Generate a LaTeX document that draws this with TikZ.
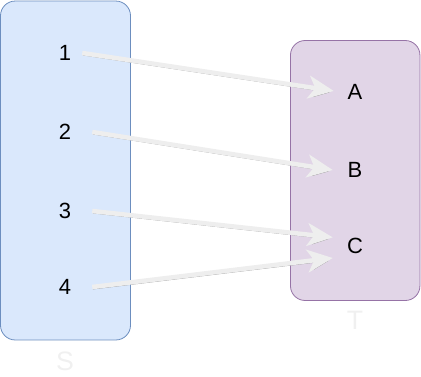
\documentclass[tikz,border=0pt]{standalone}
\usepackage{fontspec}
\setmainfont{Liberation Sans}
\usetikzlibrary{arrows.meta,positioning,calc}
\definecolor{sfill}{HTML}{DAE8FC}\definecolor{sline}{HTML}{6C8EBF}
\definecolor{tfill}{HTML}{E1D5E7}\definecolor{tline}{HTML}{9673A6}
\definecolor{faint}{HTML}{F0F0F0}\definecolor{arrowgray}{HTML}{EEEEEE}
\tikzset{
  setbox/.style={draw=#1line,fill=#1fill,rounded corners=11pt,line width=.6pt},
  elem/.style={font=\fontsize{16.5}{19}\selectfont,inner sep=0pt},
  setname/.style={font=\fontsize{20}{23}\selectfont,text=faint},
  maparrow/.style={draw=arrowgray,line width=3.4pt,
    -{Stealth[length=19pt,width=17pt,inset=5pt,fill=arrowgray]},
    preaction={draw=black!40,transform canvas={shift={(.5pt,-1.6pt)}},
      -{Stealth[length=19pt,width=17pt,inset=5pt,fill=black!40]}}}
}
\begin{document}
\begin{tikzpicture}[x=.75pt,y=-.75pt]
\useasboundingbox (0,0) rectangle (421,376);
\node[setbox=s,minimum width=97.5pt,minimum height=254.2pt] (boxS) at (65.5,170.5){};
\node[setbox=t,minimum width=97.1pt,minimum height=195pt] (boxT) at (355.2,170.5){};
\node[setname] (nameS) at (65,361){S};\node[setname] (nameT) at (355,320){T};
\node[elem,minimum width=25.5pt] (s1) at (65,53){1};
\node[elem,minimum width=40.5pt] (s2) at (65,132){2};
\node[elem,minimum width=40.5pt] (s3) at (65,211){3};
\node[elem,minimum width=40.5pt] (s4) at (65,287){4};
\node[elem,minimum width=31.5pt] (ta) at (355,92){A};
\node[elem,minimum width=33pt] (tb) at (355,170){B};
\node[elem,minimum width=33pt] (tc) at (355,246){C};
\draw[maparrow] (s1.east)--([yshift=.8pt]ta.west);\draw[maparrow] (s2.east)--(tb.west);
\draw[maparrow] (s3.east)--([yshift=6.5pt]tc.west);\draw[maparrow] (s4.east)--([yshift=-9pt]tc.west);
\end{tikzpicture}
\end{document}
